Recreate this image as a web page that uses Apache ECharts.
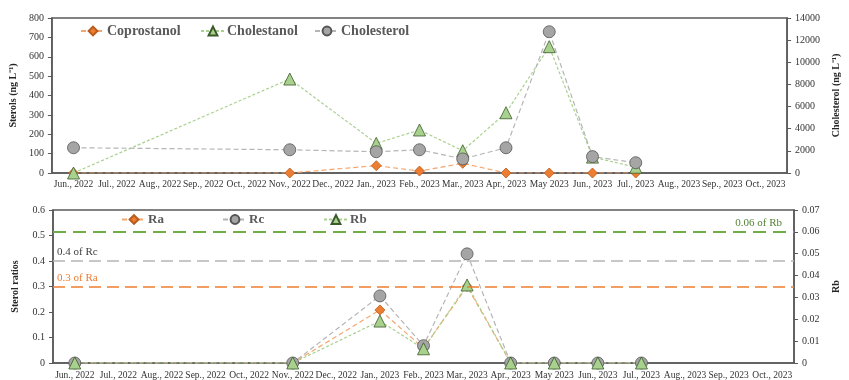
<!DOCTYPE html>
<html><head><meta charset="utf-8">
<script src="https://cdn.jsdelivr.net/npm/echarts@6/dist/echarts.min.js"></script>
<style>html,body{margin:0;padding:0;background:#fff}#c{width:849px;height:380px}</style>
</head><body><div id="c"></div>
<script>
var months = ["Jun., 2022","Jul., 2022","Aug., 2022","Sep., 2022","Oct., 2022","Nov., 2022","Dec., 2022","Jan., 2023","Feb., 2023","Mar., 2023","Apr., 2023","May 2023","Jun., 2023","Jul., 2023","Aug., 2023","Sep., 2023","Oct., 2023"];
var coprostanol = [0,null,null,null,null,0,null,38,10,50,0,0,0,0,null,null,null];
var cholestanol = [0,null,null,null,null,485,null,153,222,115,311,652,82,30,null,null,null];
var cholesterol = [2280,null,null,null,null,2100,null,1920,2100,1270,2280,12760,1480,930,null,null,null];
var ra = [0,null,null,null,null,0,null,0.208,0.058,0.300,0,0,0,0,null,null,null];
var rc = [0,null,null,null,null,0,null,0.263,0.068,0.428,0,0,0,0,null,null,null];
var rb = [0,null,null,null,null,0,null,0.0192,0.0065,0.0357,0,0,0,0,null,null,null];
var refRa = 0.3, refRc = 0.4, refRb = 0.06;

var FONT = "Liberation Serif";
var AX = '#595959';
var ORANGE = '#ED7D31', GREEN = '#A9D18E', GREY = '#A5A5A5';

function xAxis(gi){
  return {type:'category', gridIndex:gi, data:months, boundaryGap:true,
    axisLine:{lineStyle:{color:AX,width:1.5}}, axisTick:{show:false},
    axisLabel:{interval:0, fontFamily:FONT, fontSize:9.5, color:'#333', margin:gi===0?6:7}};
}
function yAxis(gi, pos, min, max, interval, name, gap){
  return {type:'value', gridIndex:gi, position:pos, min:min, max:max, interval:interval,
    name:name, nameLocation:'middle', nameGap:gap,
    nameTextStyle:{fontFamily:FONT, fontSize:10, fontWeight:'bold', color:'#262626'},
    axisLine:{show:true, lineStyle:{color:AX,width:1.5}},
    axisTick:{show:true, length:4, lineStyle:{color:AX}},
    splitLine:{show:false},
    axisLabel:{fontFamily:FONT, fontSize:10, color:'#333', margin:8,
      formatter:function(v){return String(+v.toFixed(4));}}};
}
function legendItem(name, left, top, size){
  return {data:[name], left:left, top:top, padding:0, itemWidth:24, itemHeight:11, itemGap:2,
    textStyle:{fontFamily:FONT, fontSize:size, fontWeight:'bold', color:'#595959', padding:[0,0,0,-3]},
    selectedMode:false};
}
var diamond = {symbol:'diamond', symbolSize:10, itemStyle:{color:ORANGE, borderColor:'#B85C1E', borderWidth:0.8}};
var tri = {symbol:'triangle', symbolSize:12, itemStyle:{color:GREEN, borderColor:'#3A5A2A', borderWidth:0.8}};
var circ = {symbol:'circle', symbolSize:12, itemStyle:{color:GREY, borderColor:'#555', borderWidth:0.8}};

function line(name, data, xi, yi, mk, lcolor, dash){
  return Object.assign({type:'line', name:name, data:data, xAxisIndex:xi, yAxisIndex:yi,
    connectNulls:true, showSymbol:true, animation:false,
    lineStyle:{color:lcolor, width:1.2, type:dash}}, mk);
}

var sRa = line('Ra', ra, 1, 2, diamond, '#F4A66E', [5,3]);
sRa.markLine = {symbol:'none', silent:true, animation:false,
  data:[{yAxis:refRa, label:{formatter:'0.3 of Ra', color:ORANGE}}],
  lineStyle:{color:ORANGE, type:[12,6], width:1.5},
  label:{position:'insideStartTop', fontFamily:FONT, fontSize:11, distance:[4,3]}};
var sRc = line('Rc', rc, 1, 2, circ, '#B5B5B5', [5,3]);
sRc.markLine = {symbol:'none', silent:true, animation:false,
  data:[{yAxis:refRc, label:{formatter:'0.4 of Rc', color:'#404040'}}],
  lineStyle:{color:'#B5B5B5', type:[12,6], width:1.5},
  label:{position:'insideStartTop', fontFamily:FONT, fontSize:11, distance:[4,3]}};
var sRb = line('Rb', rb, 1, 3, tri, GREEN, [3,2]);
sRb.markLine = {symbol:'none', silent:true, animation:false,
  data:[{yAxis:refRb, label:{formatter:'0.06 of Rb', color:'#548235'}}],
  lineStyle:{color:'#70AD47', type:[13,7], width:2},
  label:{position:'insideEndTop', fontFamily:FONT, fontSize:11, distance:[12,3]}};

var option = {
  backgroundColor:'#fff',
  grid:[
    {left:48, right:41, top:18, height:155, show:true, borderColor:AX, borderWidth:1.5},
    {left:53, right:36, top:210, height:154, show:true, borderColor:AX, borderWidth:1.5}
  ],
  legend:[
    legendItem('Coprostanol', 80, 24, 14),
    legendItem('Cholestanol', 200, 24, 14),
    legendItem('Cholesterol', 314, 24, 14),
    legendItem('Ra', 121, 213, 13),
    legendItem('Rc', 222, 213, 13),
    legendItem('Rb', 323, 213, 13)
  ],
  xAxis:[xAxis(0), xAxis(1)],
  yAxis:[
    yAxis(0,'left',0,800,100,'Sterols (ng L\u207B\u00B9)',29),
    yAxis(0,'right',0,14000,2000,'Cholesterol (ng L\u207B\u00B9)',40),
    yAxis(1,'left',0,0.6,0.1,'Sterol ratios',33),
    yAxis(1,'right',0,0.07,0.01,'Rb',37)
  ],
  series:[
    line('Coprostanol', coprostanol, 0, 0, diamond, '#F4A66E', [5,3]),
    line('Cholestanol', cholestanol, 0, 0, tri, GREEN, [3,2]),
    line('Cholesterol', cholesterol, 0, 1, circ, '#B5B5B5', [5,3]),
    sRa, sRc, sRb
  ]
};
var chart = echarts.init(document.getElementById('c'), null, {renderer:'canvas'});
chart.setOption(option);
</script></body></html>
